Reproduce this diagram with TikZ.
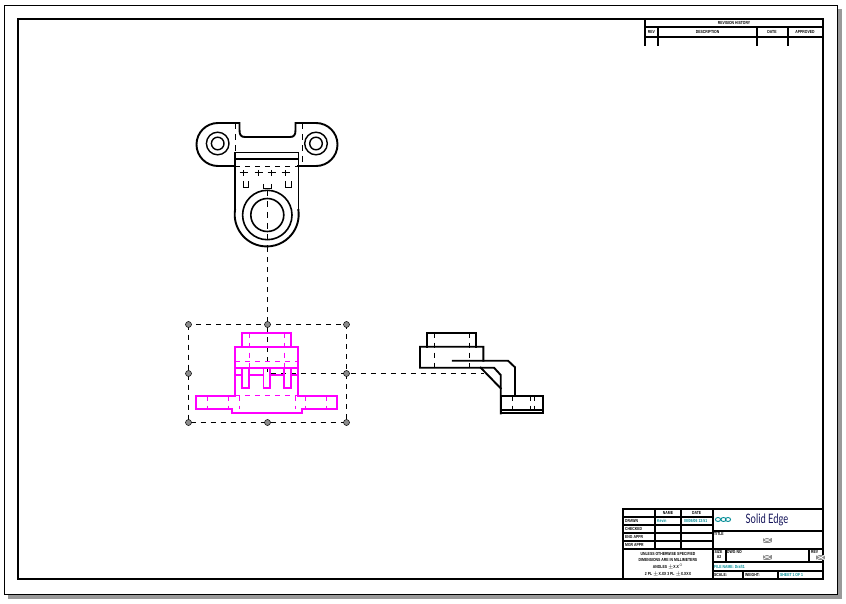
\documentclass[tikz,border=0pt]{standalone}
\usepackage{fontspec}
\setmainfont{Liberation Sans}
\newfontfamily\narrowfont[FakeStretch=0.78]{Liberation Sans}
\newfontfamily\logofont[FakeStretch=0.72]{Lato}
\usepackage{tikz}
\definecolor{viewpink}{RGB}{255,0,255}
\definecolor{sheetteal}{RGB}{0,140,150}
\definecolor{handlegray}{RGB}{140,140,140}
\tikzset{every node/.style={font=\narrowfont\fontsize{4.4}{5}\selectfont\bfseries,inner sep=0pt},
  edgeline/.style={line width=1.9pt,line cap=rect},
  hiddenline/.style={line width=1pt,dash pattern=on 5pt off 5pt},
  centerline/.style={line width=1pt,dash pattern=on 6pt off 5pt},
  frameline/.style={line width=1.7pt},
  tealtext/.style={text=sheetteal},
  noneholder/.style={fill=handlegray,minimum width=9pt,minimum height=5pt}}
\newcommand{\grabhandle}[2]
{\draw[fill=handlegray,line width=0.5pt](#1,#2) circle (3pt);}
\newcommand{\emptyfield}[2]
{\node[noneholder](#1) at (#2) {};
 \draw[white,line width=0.7pt](#1.south west)--(#1.north east)
   (#1.north west)--(#1.south east);}
\begin{document}
\begin{tikzpicture}[x=1pt,y=-1pt]
\useasboundingbox (0,0) rectangle (846,604);
% sheet and its shadow
\fill[black!40] (8,9) rectangle (842,599);
\draw[fill=white,line width=0.8pt] (4.5,5.5) rectangle (837.5,594.5);
\draw[line width=2pt] (18,19) rectangle (823,579);
% top view
\begin{scope}[edgeline]
\draw (235,166) -- (218,166) arc (90:270:21.5) -- (239.5,123) -- (239.5,130)
  .. controls (239.5,135) and (241,137) .. (245,137) -- (290,137)
  .. controls (294,137) and (295.5,135) .. (295.5,130) -- (295.5,123) -- (316,123)
  arc (-90:90:21.5) -- (298,166);
\draw (235,152.5) rectangle (298.5,159);
\draw (235,152.5) -- (235,210);
\draw (298.5,152.5) -- (298.5,210);
\draw (235,210) arc (188:-8:32);
\draw[line width=1.6pt] (267.3,215) circle (24.7);
\draw[line width=1.6pt] (267.3,215) circle (16.5);
\foreach \lobe in {217.7,316} {
  \draw[line width=1.4pt] (\lobe,143.5) circle (11.3);
  \draw[line width=1.4pt] (\lobe,143.5) circle (6.3);
}
\end{scope}
\draw[hiddenline] (235,166.5) -- (298.5,166.5);
\foreach \cx in {235,302.5} \draw[centerline] (\cx,123) -- (\cx,166);
\begin{scope}[line width=1pt]
\foreach \hx in {243.5,258.5,271.5,285.5} \draw (\hx,170) -- (\hx,176);
\foreach \hx in {243.5,258.5,271.5,285.5} \draw (\hx-4,172.5) -- (\hx+4,172.5);
\draw (243.5,181) -- (243.5,187.5) -- (248.5,187.5) -- (248.5,181);
\draw (285.5,181) -- (285.5,187.5) -- (291.5,187.5) -- (291.5,181);
\draw (263.5,184) -- (263.5,188.5) -- (271.5,188.5) -- (271.5,184);
\end{scope}
% named ends of the projection lines
\coordinate (topviewend) at (267.5,247);
\coordinate (viewcross) at (267.5,373.5);
\coordinate (sideviewend) at (484,373.5);
\draw[centerline] (267.5,190) -- (267.5,247);
\draw[hiddenline] (topviewend) -- (viewcross) -- (sideviewend);
% front view, selected
\begin{scope}[edgeline,viewpink]
\draw (242.3,346.7) -- (242.3,332.7) -- (291,332.7) -- (291,346.7);
\draw (235,346.7) rectangle (298.3,367.7);
\draw (235,367.7) -- (235,395.7) -- (196,395.7);
\draw (298.3,395.7) -- (298.3,367.7);
\draw (196,395.7) -- (196,409) -- (232.3,409)
  -- (232.3,413) -- (301.7,413) -- (301.7,409) -- (336.7,409) -- (336.7,395.7) -- (298.3,395.7);
\foreach \slot in {242.3,263.5,284.3} {
  \draw (\slot,367.7) -- (\slot,388.3) -- (\slot+6.5,388.3) -- (\slot+6.5,367.7);
}
\draw (235,375) -- (242,375) (249,375) -- (263,375) (270,375) -- (284,375) (291,375) -- (298,375);
\end{scope}
\begin{scope}[draw=viewpink,hiddenline,line width=1.4pt]
\draw (235,361.5) -- (298.3,361.5);
\draw (235,395.5) -- (298.3,395.5);
\foreach \hx in {249.5,284.5} \draw (\hx,332.7) -- (\hx,367.7);
\foreach \hx in {207.5,228.5,239.5,295.5,305.5,326.5} \draw (\hx,395.7) -- (\hx,409);
\end{scope}
% selection frame
\draw[hiddenline] (188.5,324.5) rectangle (346.5,422.5);
\foreach \fx in {188.5,267.5,346.5} {
  \grabhandle{\fx}{324.5}
  \grabhandle{\fx}{422.5}
}
\grabhandle{188.5}{373.5}
\grabhandle{346.5}{373.5}
% side view
\begin{scope}[edgeline]
\draw (426.7,346.7) -- (426.7,332.7) -- (476,332.7) -- (476,346.7);
\draw (483.3,360.7) -- (483.3,346.7) -- (420,346.7) -- (420,367.7) -- (494,367.7) -- (500.7,375) -- (500.7,413.3);
\draw (452.7,360.7) -- (508,360.7) -- (515,367.3) -- (515,395.7);
\draw (480.7,367.7) -- (500.7,388.3);
\draw (500.7,395.7) rectangle (543.3,413.3);
\draw[line width=1.2pt] (500.7,410) -- (543.3,410);
\end{scope}
\begin{scope}[hiddenline]
\foreach \hx in {434.5,469.5} \draw (\hx,332.7) -- (\hx,367.7);
\foreach \hx in {512.5,530.5,534.5} \draw (\hx,395.7) -- (\hx,410);
\end{scope}
% revision block
\begin{scope}[frameline]
\draw (644.7,46) -- (644.7,19) (644.7,27.3) -- (823,27.3) (644.7,36.7) -- (823,36.7);
\foreach \rx in {658.3,756.7,787.7} \draw (\rx,27.3) -- (\rx,46);
\end{scope}
\node (revhist) at (734,23.2) {REVISION HISTORY};
\node (revrev) at (651.5,32) {REV};
\node (revdesc) at (707.5,32) {DESCRIPTION};
\node (revdate) at (772,32) {DATE};
\node (revappr) at (805,32) {APPROVED};
% title block
\begin{scope}[frameline]
\draw (623.3,579) -- (623.3,509) -- (823,509);
\foreach \ty in {517,525,533,541,549} \draw (623.3,\ty) -- (712.7,\ty);
\foreach \tx in {655,680.7} \draw (\tx,509) -- (\tx,549);
\draw (712.7,509) -- (712.7,579);
\foreach \ty in {531,549,561.7,571} \draw (712.7,\ty) -- (823,\ty);
\draw (725.7,549) -- (725.7,561.7) (809.3,549) -- (809.3,561.7);
\draw (743,571) -- (743,579) (778.3,571) -- (778.3,579);
\end{scope}
\node (namehead) at (668,513) {NAME};
\node (datehead) at (696.7,513) {DATE};
\node[anchor=west] (drawn) at (625,521) {DRAWN};
\node[anchor=west] (checked) at (625,529) {CHECKED};
\node[anchor=west] (engappr) at (625,537) {ENG APPR};
\node[anchor=west] (mgrappr) at (625,545) {MGR APPR};
\node[anchor=west,tealtext] (drawnname) at (657,521) {Kevin};
\node[anchor=west,tealtext] (drawndate) at (684,521) {08/06/06 13:51};
\node (note1) at (668,553.5) {UNLESS OTHERWISE SPECIFIED};
\node (note2) at (668,560) {DIMENSIONS ARE IN MILLIMETERS};
\node (note3) at (668,566.5) {ANGLES $\pm$X.X$^\circ$};
\node (note4) at (668,574) {2 PL $\pm$X.XX 3 PL $\pm$X.XXX};
% program mark and name
\foreach \mx in {718,723.5,728} \draw[sheetteal,line width=0.9pt] (\mx,519.5) ellipse (2.6pt and 2pt);
\node[font=\logofont\fontsize{13}{14}\selectfont,text={rgb,255:red,20;green,20;blue,90}] (seltitle) at (767,519.5) {Solid Edge};
\node[anchor=west] (titlelabel) at (714,534) {TITLE};
\emptyfield{titlefield}{767,540}
\node[anchor=west] (sizelabel) at (714.5,552) {SIZE};
\node (sizevalue) at (719,557) {A2};
\node[anchor=west] (dwglabel) at (727,552) {DWG NO};
\emptyfield{dwgfield}{767,557}
\node[anchor=west] (revlabel) at (811,552) {REV};
\emptyfield{revfield}{820.7,557.5}
\node[anchor=west,tealtext] (filename) at (714,566.5) {FILE NAME: Draft1};
\node[anchor=west] (scalelabel) at (714,575) {SCALE:};
\node[anchor=west] (weightlabel) at (745,575) {WEIGHT:};
\node[anchor=west,tealtext] (sheetlabel) at (780,575) {SHEET 1 OF 1};
\end{tikzpicture}
\end{document}
